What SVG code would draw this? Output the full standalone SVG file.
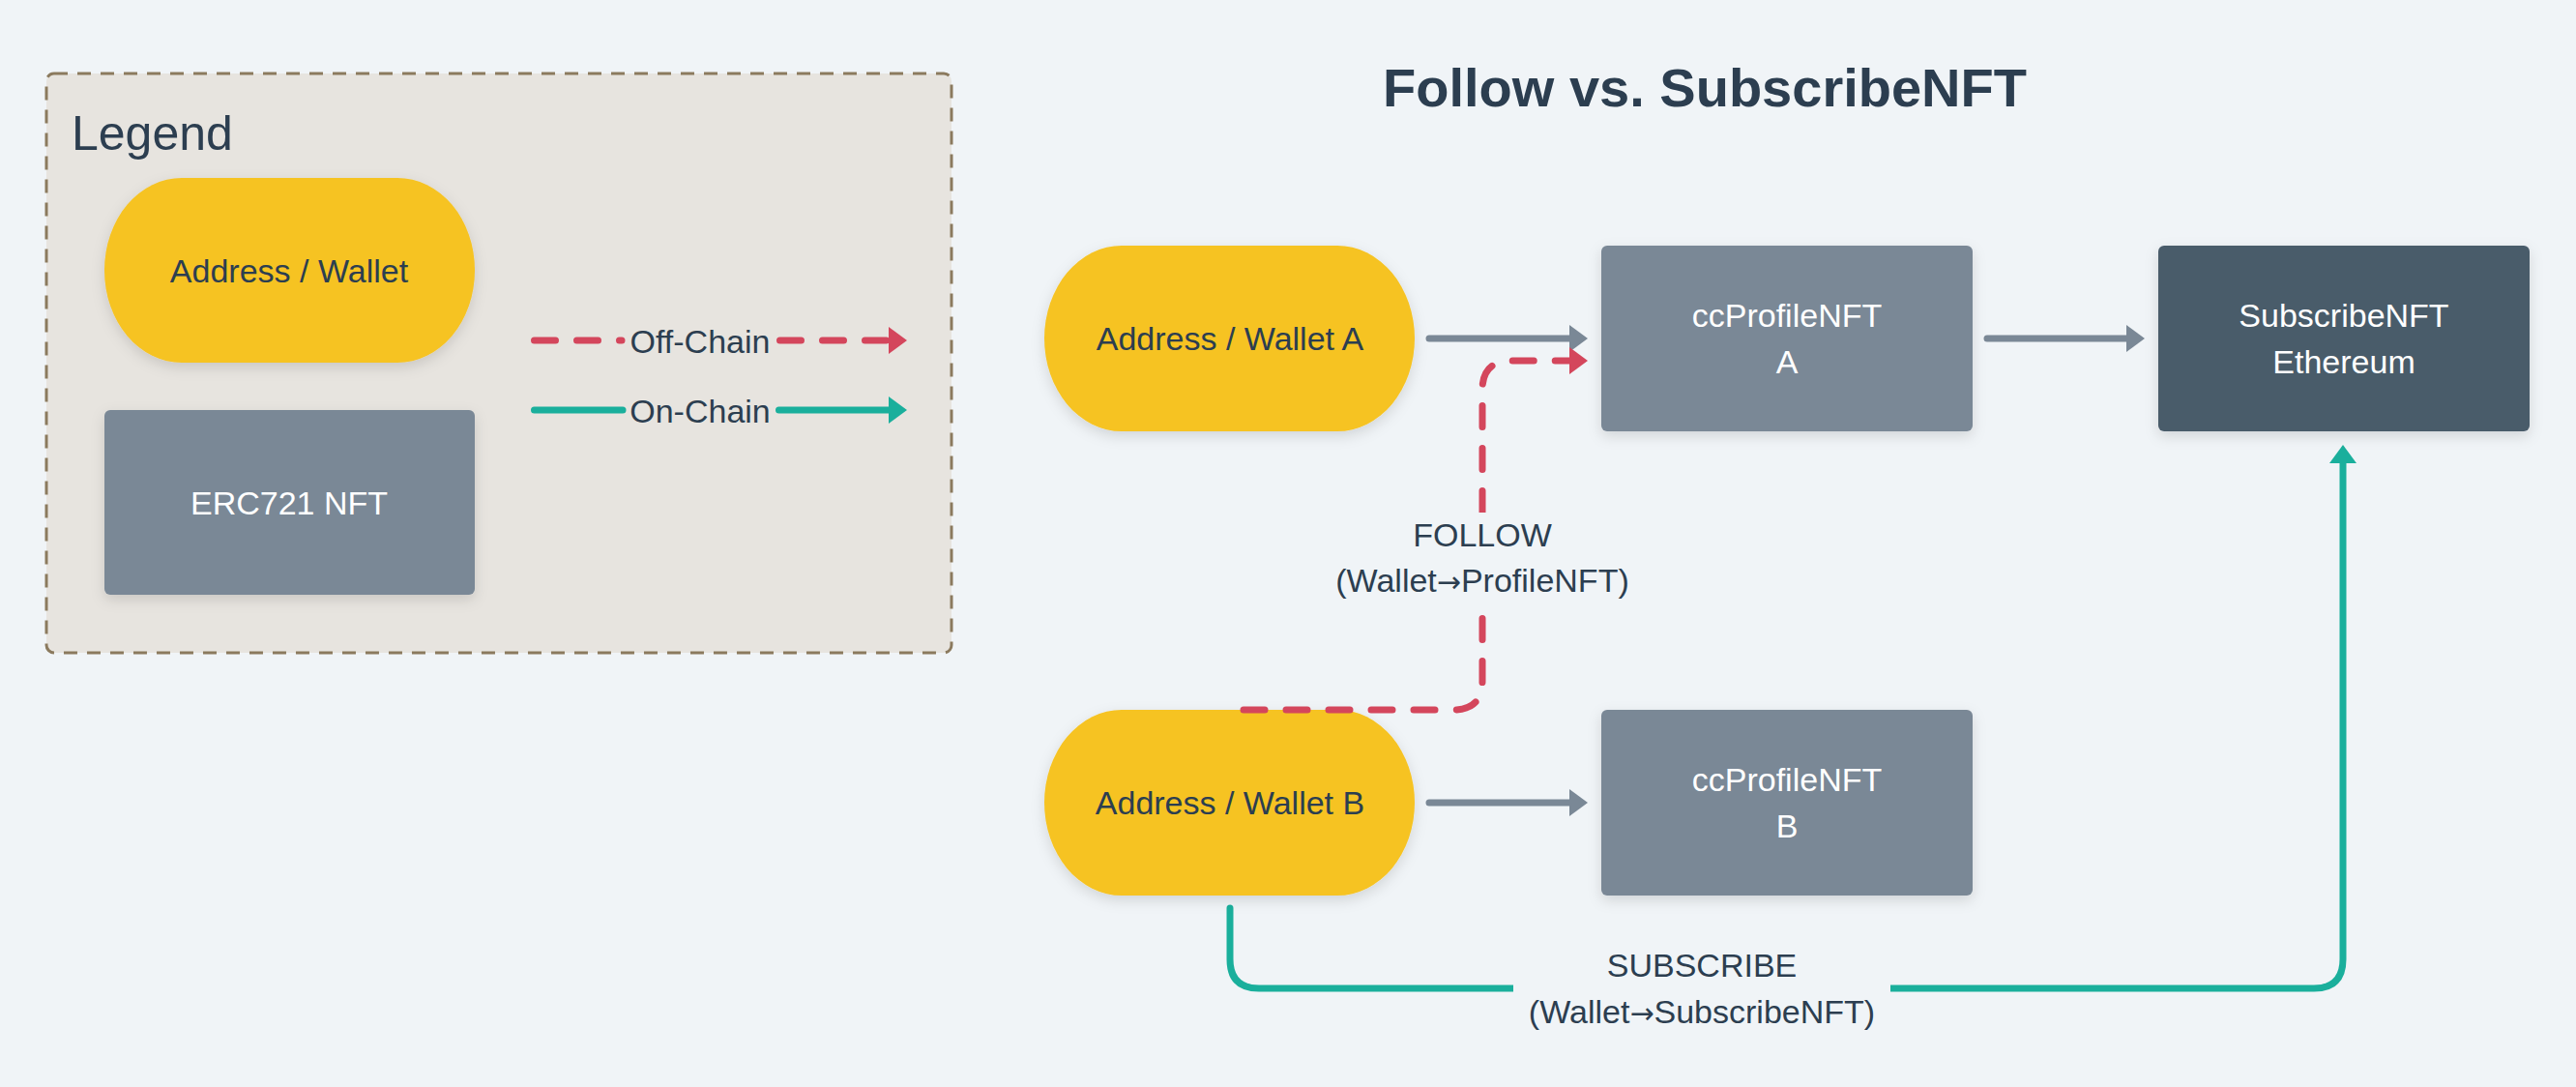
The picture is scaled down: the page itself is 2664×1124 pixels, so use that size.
<svg xmlns="http://www.w3.org/2000/svg" width="2664" height="1124" viewBox="0 0 2664 1124">
<defs>
<style>
text{font-family:"Liberation Sans",Arial,sans-serif;text-anchor:middle;}
.dark{fill:#2c3e50;font-size:34px;}
.light{fill:#ffffff;font-size:34px;}
.arr{font-family:"DejaVu Sans",sans-serif;font-size:30px;}
.wallet{fill:#f6c324;}
.nft{fill:#7a8896;}
.sub{fill:#4a5b6b;}
.grey{fill:none;stroke:#7a8896;stroke-width:7;stroke-linecap:round;}
.red{fill:none;stroke:#d4465c;stroke-width:7;stroke-linecap:round;stroke-dasharray:22 22;}
.teal{fill:none;stroke:#1aaf9c;stroke-width:7;stroke-linecap:round;}
</style>
<filter id="sh" x="-20%" y="-20%" width="140%" height="150%">
<feDropShadow dx="0" dy="5" stdDeviation="7" flood-color="#000" flood-opacity="0.13"/>
</filter>
<marker id="ag" viewBox="0 0 19 28" markerWidth="19" markerHeight="28" refX="1" refY="14" orient="auto" markerUnits="userSpaceOnUse"><path d="M0,0 L19,14 L0,28 Z" fill="#7a8896"/></marker>
<marker id="ar" viewBox="0 0 19 28" markerWidth="19" markerHeight="28" refX="1" refY="14" orient="auto" markerUnits="userSpaceOnUse"><path d="M0,0 L19,14 L0,28 Z" fill="#d4465c"/></marker>
<marker id="at" viewBox="0 0 19 28" markerWidth="19" markerHeight="28" refX="1" refY="14" orient="auto" markerUnits="userSpaceOnUse"><path d="M0,0 L19,14 L0,28 Z" fill="#1aaf9c"/></marker>
</defs>
<rect width="2664" height="1124" fill="#f0f4f7"/>

<g id="legend">
<rect x="48" y="76" width="936" height="599" rx="8" fill="#e7e4df" stroke="#8b7a5e" stroke-width="3" stroke-dasharray="14 10"/>
<text x="74" y="155" style="text-anchor:start;font-size:50px;fill:#2c3e50">Legend</text>
<g id="legend-wallet">
<rect class="wallet" x="108" y="184" width="383" height="191" rx="80" ry="95" filter="url(#sh)"/>
<text class="dark" x="299" y="292">Address / Wallet</text>
</g>
<g id="legend-nft">
<rect class="nft" x="108" y="424" width="383" height="191" rx="6" filter="url(#sh)"/>
<text class="light" x="299" y="532">ERC721 NFT</text>
</g>
<g id="legend-lines">
<path class="red" d="M552.5,352 H643"/>
<path class="red" d="M806.5,352 H920" marker-end="url(#ar)"/>
<text class="dark" x="724" y="365">Off-Chain</text>
<path class="teal" d="M552.5,424 H644"/>
<path class="teal" d="M805.5,424 H920" marker-end="url(#at)"/>
<text class="dark" x="724" y="437">On-Chain</text>
</g>
</g>

<text x="1763" y="110" style="font-size:56px;font-weight:bold;fill:#2c3e50">Follow vs. SubscribeNFT</text>

<g id="connectors">
<path class="grey" d="M1478,350 H1624" marker-end="url(#ag)"/>
<path class="grey" d="M2055,350 H2200" marker-end="url(#ag)"/>
<path class="grey" d="M1478,830 H1624" marker-end="url(#ag)"/>
<path class="teal" d="M1272,939 V992 Q1272,1022 1302,1022 H2393 Q2423,1022 2423,992 V478" marker-end="url(#at)"/>
<rect x="1565" y="980" width="390" height="86" fill="#f0f4f7"/>
<text class="dark" x="1760" y="1010">SUBSCRIBE</text>
<text class="dark" x="1760" y="1058">(Wallet<tspan class="arr">→</tspan>SubscribeNFT)</text>
</g>

<g id="walletA">
<rect class="wallet" x="1080" y="254" width="383" height="192" rx="80" ry="96" filter="url(#sh)"/>
<text class="dark" x="1272" y="362">Address / Wallet A</text>
</g>
<g id="profileA">
<rect class="nft" x="1656" y="254" width="384" height="192" rx="6" filter="url(#sh)"/>
<text class="light" x="1848" y="338">ccProfileNFT</text>
<text class="light" x="1848" y="386">A</text>
</g>
<g id="subscribeNFT">
<rect class="sub" x="2232" y="254" width="384" height="192" rx="6" filter="url(#sh)"/>
<text class="light" x="2424" y="338">SubscribeNFT</text>
<text class="light" x="2424" y="386">Ethereum</text>
</g>
<g id="walletB">
<rect class="wallet" x="1080" y="734" width="383" height="192" rx="80" ry="96" filter="url(#sh)"/>
<text class="dark" x="1272" y="842">Address / Wallet B</text>
</g>
<g id="profileB">
<rect class="nft" x="1656" y="734" width="384" height="192" rx="6" filter="url(#sh)"/>
<text class="light" x="1848" y="818">ccProfileNFT</text>
<text class="light" x="1848" y="866">B</text>
</g>

<g id="follow-connector">
<path class="red" d="M1286,734 H1503 Q1533,734 1533,704 V403 Q1533,373 1563,373 H1624" marker-end="url(#ar)"/>
<rect x="1370" y="530" width="328" height="98" fill="#f0f4f7"/>
<text class="dark" x="1533" y="565">FOLLOW</text>
<text class="dark" x="1533" y="612">(Wallet<tspan class="arr">→</tspan>ProfileNFT)</text>
</g>
</svg>
